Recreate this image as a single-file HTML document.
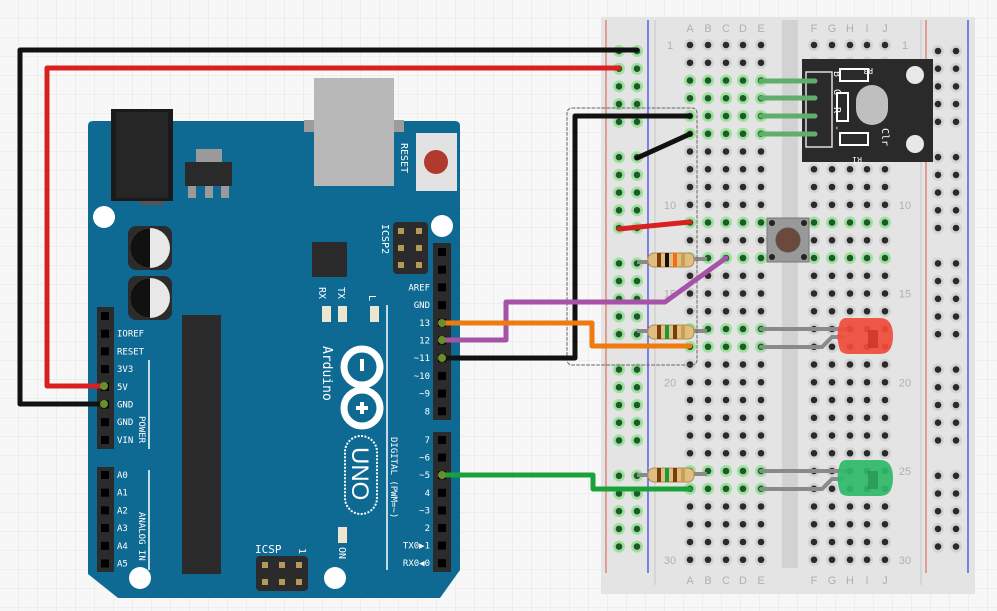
<!DOCTYPE html>
<html><head><meta charset="utf-8"><style>
html,body{margin:0;padding:0;background:#f6f6f6;}
svg{display:block;font-family:"DejaVu Sans Mono","Liberation Mono",monospace;}
</style></head><body>
<svg id="s" width="997" height="611" viewBox="0 0 997 611" xmlns="http://www.w3.org/2000/svg">
<defs>
<pattern id="grid" width="19" height="19" patternUnits="userSpaceOnUse"><path d="M19 0V19H0" fill="none" stroke="#e4e4e4" stroke-width="1"/></pattern>
</defs>
<rect width="997" height="611" fill="#f7f7f7"/>
<rect width="997" height="611" fill="url(#grid)"/>

<!-- Breadboard -->
<rect x="601" y="17" width="374" height="577" fill="#e4e4e4"/>
<rect x="782" y="20" width="16" height="548" fill="#d2d2d2"/>
<line x1="606" y1="20" x2="606" y2="573" stroke="#e07060" stroke-width="1.2"/>
<line x1="648" y1="20" x2="648" y2="573" stroke="#3040e0" stroke-width="1.2"/>
<line x1="926" y1="20" x2="926" y2="573" stroke="#e07060" stroke-width="1.2"/>
<line x1="968" y1="20" x2="968" y2="573" stroke="#3040e0" stroke-width="1.2"/>
<line x1="655" y1="20" x2="655" y2="585" stroke="#c8c8c8" stroke-width="1"/>
<line x1="921" y1="20" x2="921" y2="585" stroke="#c8c8c8" stroke-width="1"/>
<g id="bb"></g>

<!-- Arduino board -->
<path d="M93 121 H455 Q460 121 460 126 V570 L440 598 H118 L88 574 V126 Q88 121 93 121Z" fill="#0f6a93"/>
<!-- power jack -->
<rect x="111" y="109" width="62" height="92" fill="#1a1a1a"/>
<rect x="116" y="112" width="52" height="86" fill="#262626"/>
<rect x="140" y="201" width="24" height="4" fill="#555"/>
<!-- regulator -->
<rect x="196" y="149" width="26" height="13" fill="#9a9a9a"/>
<rect x="185" y="162" width="47" height="24" fill="#2a2a2a"/>
<rect x="188" y="186" width="8" height="12" fill="#9a9a9a"/><rect x="205" y="186" width="8" height="12" fill="#9a9a9a"/><rect x="221" y="186" width="8" height="12" fill="#9a9a9a"/>
<!-- USB -->
<rect x="304" y="120" width="100" height="12" fill="#9c9c9c"/>
<rect x="314" y="78" width="80" height="108" fill="#b8b8b8"/>
<!-- reset -->
<rect x="416" y="133" width="41" height="58" fill="#e2e2e2"/>
<circle cx="436" cy="162" r="12" fill="#b03a2e"/>
<text transform="translate(401,143) rotate(90)" font-size="10" fill="#fff">RESET</text>
<!-- mounting holes -->
<circle cx="104" cy="217" r="11" fill="#fff"/><circle cx="442" cy="226" r="11" fill="#fff"/>
<circle cx="140" cy="578" r="11" fill="#fff"/><circle cx="335" cy="578" r="11" fill="#fff"/>
<!-- caps -->
<g>
<rect x="128" y="226" width="44" height="44" rx="8" fill="#2b2b2b"/>
<circle cx="150" cy="248" r="20" fill="#e8e8e8"/><path d="M150 228 A20 20 0 0 0 150 268Z" fill="#111"/>
<rect x="128" y="276" width="44" height="44" rx="8" fill="#2b2b2b"/>
<circle cx="150" cy="298" r="20" fill="#e8e8e8"/><path d="M150 278 A20 20 0 0 0 150 318Z" fill="#111"/>
</g>
<!-- chips -->
<rect x="312" y="242" width="35" height="35" fill="#2b2b2b"/>
<rect x="182" y="315" width="39" height="259" fill="#2b2b2b"/>
<!-- ICSP2 -->
<rect x="393" y="222" width="35" height="52" rx="4" fill="#2b2b2b"/>
<g fill="#b59a5a"><rect x="398" y="228" width="6" height="6"/><rect x="416" y="228" width="6" height="6"/><rect x="398" y="245" width="6" height="6"/><rect x="416" y="245" width="6" height="6"/><rect x="398" y="262" width="6" height="6"/><rect x="416" y="262" width="6" height="6"/></g>
<text transform="translate(382,224) rotate(90)" font-size="10" fill="#fff">ICSP2</text>
<!-- RX TX L -->
<text transform="translate(319,287) rotate(90)" font-size="10" fill="#fff">RX</text>
<text transform="translate(338,287) rotate(90)" font-size="10" fill="#fff">TX</text>
<text transform="translate(369,295) rotate(90)" font-size="10" fill="#fff">L</text>
<rect x="322" y="306" width="9" height="16" fill="#efe6cf"/><rect x="338" y="306" width="9" height="16" fill="#efe6cf"/><rect x="370" y="306" width="9" height="16" fill="#efe6cf"/>
<line x1="387" y1="305" x2="387" y2="570" stroke="#fff" stroke-width="1.5"/>
<!-- logo -->
<circle cx="362" cy="367" r="18" fill="none" stroke="#fff" stroke-width="7"/>
<circle cx="362" cy="408" r="18" fill="none" stroke="#fff" stroke-width="7"/>
<rect x="360" y="359" width="4" height="12" fill="#fff"/>
<rect x="356" y="406" width="12" height="4" fill="#fff"/><rect x="360" y="402" width="4" height="12" fill="#fff"/>
<text transform="translate(323,346) rotate(90)" font-size="13" fill="#fff">Arduino</text>
<rect x="345" y="436" width="32" height="78" rx="16" fill="none" stroke="#fff" stroke-width="2" stroke-dasharray="2 1.5"/>
<text transform="translate(352,447) rotate(90)" font-size="24" fill="#fff" font-family="Liberation Sans,sans-serif">UNO</text>
<text transform="translate(391,437) rotate(90)" font-size="9" fill="#fff">DIGITAL (PWM=~)</text>
<!-- ON -->
<rect x="338" y="527" width="9" height="16" fill="#efe6cf"/>
<text transform="translate(339,547) rotate(90)" font-size="10" fill="#fff">ON</text>
<!-- ICSP -->
<rect x="256" y="556" width="52" height="35" rx="4" fill="#2b2b2b"/>
<g fill="#b59a5a"><rect x="262" y="562" width="6" height="6"/><rect x="279" y="562" width="6" height="6"/><rect x="296" y="562" width="6" height="6"/><rect x="262" y="579" width="6" height="6"/><rect x="279" y="579" width="6" height="6"/><rect x="296" y="579" width="6" height="6"/></g>
<text x="255" y="553" font-size="11" fill="#fff">ICSP</text>
<text transform="translate(299,548) rotate(90)" font-size="10" fill="#fff">1</text>
<!-- headers -->
<rect x="97" y="307" width="17" height="142" fill="#2b2b2b"/>
<rect x="97" y="467" width="17" height="105" fill="#2b2b2b"/>
<rect x="433" y="243" width="18" height="177" fill="#2b2b2b"/>
<rect x="433" y="432" width="18" height="140" fill="#2b2b2b"/>
<line x1="149" y1="360" x2="149" y2="449" stroke="#fff" stroke-width="1.5"/>
<line x1="149" y1="470" x2="149" y2="570" stroke="#fff" stroke-width="1.5"/>
<text transform="translate(139,416) rotate(90)" font-size="9" fill="#fff">POWER</text>
<text transform="translate(139,512) rotate(90)" font-size="9" fill="#fff">ANALOG IN</text>
<g id="pins" font-size="9" fill="#fff"></g>

<!-- RGB module -->
<rect x="802" y="59" width="131" height="103" fill="#2a2a2a"/>
<rect x="806" y="72" width="26" height="75" fill="none" stroke="#ddd" stroke-width="1.5"/>
<text transform="translate(834,71) rotate(90)" font-size="10" fill="#fff">B</text>
<text transform="translate(834,89) rotate(90)" font-size="10" fill="#fff">G</text>
<text transform="translate(834,107) rotate(90)" font-size="10" fill="#fff">R</text>
<text transform="translate(834,125) rotate(90)" font-size="10" fill="#fff">-</text>
<rect x="840" y="69" width="28" height="12" fill="none" stroke="#fff" stroke-width="2"/>
<rect x="837" y="93" width="11" height="28" fill="none" stroke="#fff" stroke-width="2"/>
<rect x="840" y="133" width="28" height="12" fill="none" stroke="#fff" stroke-width="2"/>
<text transform="translate(873,68) rotate(180)" font-size="8" fill="#fff">R3</text>
<text transform="translate(862,157) rotate(180)" font-size="8" fill="#fff">R1</text>
<text transform="translate(882,128) rotate(90)" font-size="10" fill="#fff">Clr</text>
<rect x="856" y="85" width="32" height="40" rx="16" fill="#cfcfcf" opacity="0.9"/>
<circle cx="915" cy="75" r="9" fill="#e8e8e8"/><circle cx="915" cy="144" r="9" fill="#e8e8e8"/>
<g stroke="#5fae6a" stroke-width="5" stroke-linecap="round">
<line x1="761" y1="81" x2="815" y2="81"/><line x1="761" y1="98" x2="815" y2="98"/><line x1="761" y1="116" x2="815" y2="116"/><line x1="761" y1="134" x2="815" y2="134"/>
</g>

<!-- pushbutton -->
<rect x="767" y="218" width="42" height="44" fill="#999" stroke="#777"/>
<circle cx="772" cy="223" r="3" fill="#222"/><circle cx="804" cy="223" r="3" fill="#222"/><circle cx="772" cy="257" r="3" fill="#222"/><circle cx="804" cy="257" r="3" fill="#222"/>
<circle cx="788" cy="240" r="12" fill="#6b4a3e" stroke="#555"/>

<!-- resistors -->
<g id="res"></g>

<!-- LEDs -->
<g stroke="#8a8a8a" stroke-width="4" fill="none" stroke-linecap="round">
<path d="M761 329 H845"/><path d="M761 347 H822 L832 337 H842"/>
<path d="M761 471 H845"/><path d="M761 489 H822 L832 479 H842"/>
</g>
<path d="M846 318 H880 Q893 318 893 336 Q893 354 880 354 H850 Q842 354 840 350 Q835 336 840 322 Q842 318 846 318Z" fill="#f04b3b" opacity="0.92"/>
<path d="M868 330 H878 V348 H868Z M866 346 L878 336" fill="#c0281e" opacity="0.6"/>
<path d="M846 460 H880 Q893 460 893 478 Q893 496 880 496 H850 Q842 496 840 492 Q835 478 840 464 Q842 460 846 460Z" fill="#2fb86a" opacity="0.92"/>
<path d="M868 471 H878 V489 H868Z" fill="#1f8a4e" opacity="0.6"/>

<!-- wires -->
<g fill="none" stroke-linecap="round" stroke-linejoin="round">
<path d="M104 404 H20 V50 H637" stroke="#111" stroke-width="5"/>
<path d="M104 386 H47 V68 H619" stroke="#d82020" stroke-width="5"/>
<rect x="567" y="108" width="130" height="257" rx="5" stroke="#666" stroke-width="1" stroke-dasharray="3 2"/>
<path d="M442 358 H575 V116 H690" stroke="#111" stroke-width="5"/>
<path d="M637 158 L690 134" stroke="#111" stroke-width="5"/>
<path d="M619 229 L690 222" stroke="#d82020" stroke-width="5"/>
<path d="M442 340 H506 V302 H665 L726 258" stroke="#a652a6" stroke-width="5"/>
<path d="M442 323 H592 V346 H690" stroke="#ee7a10" stroke-width="5"/>
<path d="M442 475 H593 V489 H690" stroke="#1aa23a" stroke-width="5"/>
</g>
<g fill="#6a8f2a"><circle cx="104" cy="386" r="4"/><circle cx="104" cy="404" r="4"/><circle cx="442" cy="323" r="4"/><circle cx="442" cy="340" r="4"/><circle cx="442" cy="358" r="4"/><circle cx="442" cy="475" r="4"/></g>
</svg>
<script>
var NS="http://www.w3.org/2000/svg";
function el(p,t,a,txt){var e=document.createElementNS(NS,t);for(var k in a)e.setAttribute(k,a[k]);if(txt!==undefined)e.textContent=txt;p.appendChild(e);return e;}
var bb=document.getElementById("bb");
var cols=[690,708,726,743,761,814,832,850,867,885];
function ry(r){return 45+(r-1)*17.75;}
var green={};
function g(r,a,b){for(var c=a;c<=b;c++)green[r+"_"+c]=1;}
[3,4,5,6].forEach(function(r){g(r,0,4);});
g(11,0,9);g(13,0,4);g(13,5,9);g(17,0,4);g(18,0,4);g(25,0,4);g(26,0,4);
function hole(x,y,gr){el(bb,"circle",{cx:x,cy:y,r:6,fill:gr?"#9fe09f":"#d3d3d3"});el(bb,"circle",{cx:x,cy:y,r:3.3,fill:gr?"#1d5a2a":"#2a2a2a"});}
for(var r=1;r<=30;r++){for(var c=0;c<10;c++)hole(cols[c],ry(r),green[r+"_"+c]);}
var L="ABCDEFGHIJ";
for(var c=0;c<10;c++){el(bb,"text",{x:cols[c],y:32,"font-size":11,fill:"#b0b0b0","text-anchor":"middle","font-family":"Liberation Sans,sans-serif"},L[c]);el(bb,"text",{x:cols[c],y:584,"font-size":11,fill:"#b0b0b0","text-anchor":"middle","font-family":"Liberation Sans,sans-serif"},L[c]);}
[1,10,15,20,25,30].forEach(function(r){el(bb,"text",{x:670,y:ry(r)+4,"font-size":11,fill:"#b0b0b0","text-anchor":"middle","font-family":"Liberation Sans,sans-serif"},r);el(bb,"text",{x:905,y:ry(r)+4,"font-size":11,fill:"#b0b0b0","text-anchor":"middle","font-family":"Liberation Sans,sans-serif"},r);});
for(var k=0;k<29;k++){if(k%6==5)continue;var y=51+k*17.7;hole(619,y,true);hole(637,y,true);hole(938,y,false);hole(956,y,false);}
// resistors
var res=document.getElementById("res");
function resistor(y1,y2,bands){el(res,"path",{d:"M637 "+y1+" H650 M692 "+y2+" H707",stroke:"#8a8a8a","stroke-width":4,fill:"none"});
el(res,"rect",{x:648,y:y2-6,width:46,height:14,rx:6,fill:"#e0bd80",stroke:"#b08a50"});
bands.forEach(function(b,i){el(res,"rect",{x:657+i*8,y:y2-6,width:4,height:14,fill:b});});}
resistor(262,259,["#7a3d0a","#111","#f07010","#c8a050"]);
resistor(331,331,["#7a3d0a","#1a9a3a","#7a3d0a","#c8a050"]);
resistor(475,474,["#7a3d0a","#1a9a3a","#7a3d0a","#c8a050"]);
// arduino pins & labels
var pg=document.getElementById("pins");
function pin(x,y,lab,left){el(pg,"rect",{x:x-4,y:y-4,width:8,height:8,fill:"#000"});if(lab){if(left)el(pg,"text",{x:117,y:y+3},lab);else el(pg,"text",{x:430,y:y+3,"text-anchor":"end"},lab);}}
var lp=["","IOREF","RESET","3V3","5V","GND","GND","VIN"];
lp.forEach(function(l,i){pin(105,316+i*17.7,l,true);});
["A0","A1","A2","A3","A4","A5"].forEach(function(l,i){pin(105,475+i*17.7,l,true);});
["","","AREF","GND","13","12","~11","~10","~9","8"].forEach(function(l,i){pin(442,252+i*17.7,l,false);});
["7","~6","~5","4","~3","2","TX0\u25B61","RX0\u25C00"].forEach(function(l,i){pin(442,440+i*17.6,l,false);});
</script>
</body></html>
